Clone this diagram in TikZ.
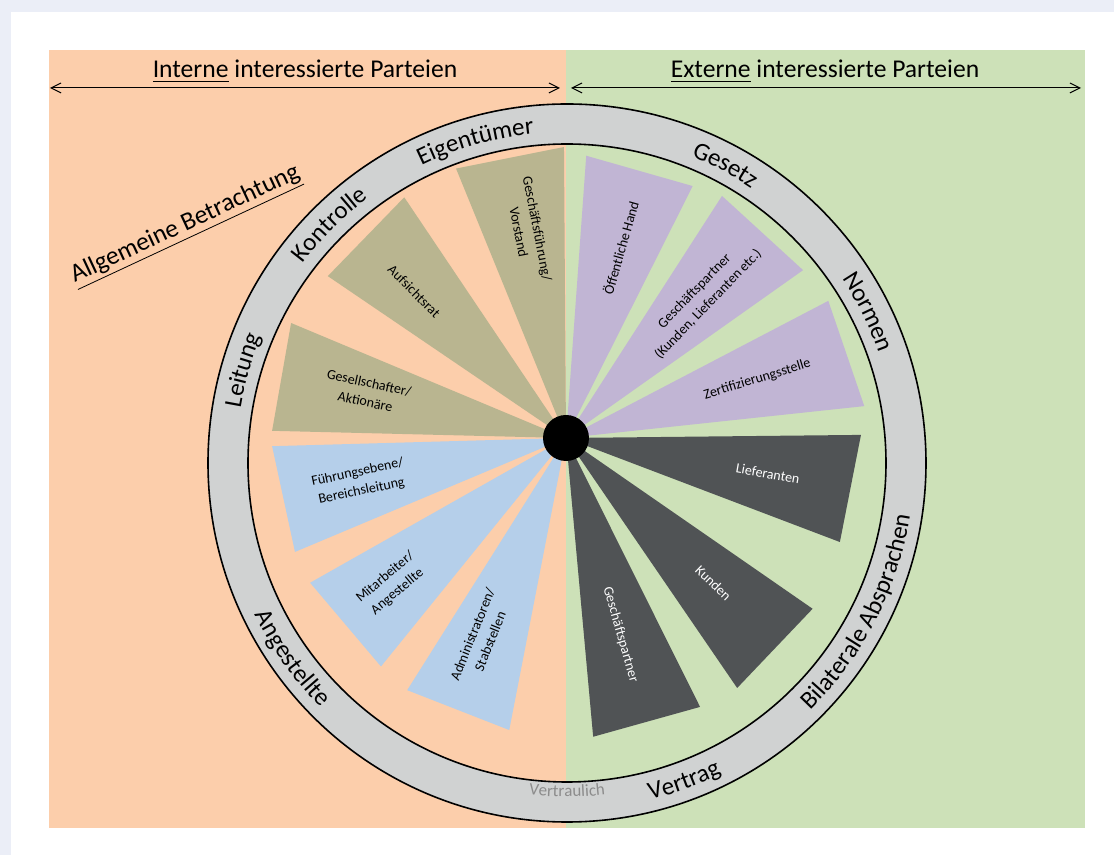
\documentclass[tikz,border=0pt]{standalone}
\usepackage{fontspec}
\setmainfont{Carlito}
\usepackage{tikz}
\usetikzlibrary{arrows.meta}
\usetikzlibrary{decorations.text}

\definecolor{pagebg}{RGB}{235,238,247}
\definecolor{interncol}{RGB}{252,206,171}
\definecolor{externcol}{RGB}{205,225,184}
\definecolor{ringcol}{RGB}{208,210,210}
\definecolor{ownercol}{RGB}{185,181,144}
\definecolor{staffcol}{RGB}{181,207,234}
\definecolor{publiccol}{RGB}{193,181,212}
\definecolor{partnercol}{RGB}{80,83,85}
\definecolor{softgray}{RGB}{140,140,140}

\newcommand\titlefont{\fontsize{12.8}{15}\selectfont}
\newcommand\ringfont{\fontsize{12.5}{15}\selectfont}
\newcommand\smallringfont{\fontsize{8.5}{10}\selectfont}

\begin{document}
\begin{tikzpicture}[x=0.5pt, y=0.5pt,
    wedgetext/.style={font=\fontsize{7}{9.5}\selectfont, align=center, inner sep=0pt},
    darktext/.style={wedgetext, text=white},
    arrowline/.style={line width=0.5pt, {Straight Barb[length=5pt,width=5pt]}-{Straight Barb[length=5pt,width=5pt]}},
    ringline/.style={line width=0.8pt}]
    % background and panels
    \fill[pagebg] (-566,438) rectangle (548,-417);
    \fill[white] (-555,426) rectangle (548,-417);
    \fill[interncol] (-517,388) rectangle (0,-390);
    \fill[externcol] (0,388) rectangle (519,-390);
    \useasboundingbox (-566,438) rectangle (548,-417);

    % headings
    \node[font=\titlefont, anchor=base] (intern) at (-261,360) {\underline{Interne} interessierte Parteien};
    \node[font=\titlefont, anchor=base] (extern) at (259,360) {\underline{Externe} interessierte Parteien};
    \coordinate (il) at (-516,350);
    \coordinate (ir) at (-6,350);
    \coordinate (el) at (5,350);
    \coordinate (er) at (515,350);
    \draw[arrowline] (il) -- (ir);
    \draw[arrowline] (el) -- (er);
    \node[font=\titlefont, rotate=25] (allg) at (-380,212) {\underline{Allgemeine Betrachtung}};

    % ring
    \fill[ringcol, even odd rule] (1,-25) circle[radius=359] (1,-25) circle[radius=319];
    \draw[ringline] (1,-25) circle[radius=359];
    \draw[ringline] (1,-25) circle[radius=319];

    % ring labels
    \path[decorate, decoration={text along path, text align=center, text={|\ringfont|Eigentümer}}]
        (1,-25) ++(145.9:331) arc[start angle=145.9, end angle=65.9, radius=331];
    \path[decorate, decoration={text along path, text align=center, text={|\ringfont|Gesetz}}]
        (1,-25) ++(102:331) arc[start angle=102, end angle=22, radius=331];
    \path[decorate, decoration={text along path, text align=center, text={|\ringfont|Normen}}]
        (1,-25) ++(66.6:331) arc[start angle=66.6, end angle=-13.4, radius=331];
    \path[decorate, decoration={text along path, text align=center, text={|\ringfont|Kontrolle}}]
        (1,-25) ++(174.9:331) arc[start angle=174.9, end angle=94.9, radius=331];
    \path[decorate, decoration={text along path, text align=center, text={|\ringfont|Leitung}}]
        (1,-25) ++(204:331) arc[start angle=204, end angle=124, radius=331];
    \path[decorate, decoration={text along path, text align=center, text={|\ringfont|Bilaterale Absprachen}}]
        (1,-25) ++(-67.1:347) arc[start angle=-67.1, end angle=12.9, radius=347];
    \path[decorate, decoration={text along path, text align=center, text={|\ringfont|Vertrag}}]
        (1,-25) ++(-109.8:347) arc[start angle=-109.8, end angle=-29.8, radius=347];
    \path[decorate, decoration={text along path, text align=center, text color=softgray, text={|\smallringfont|Vertraulich}}]
        (1,-25) ++(-130:334) arc[start angle=-130, end angle=-50, radius=334];
    \path[decorate, decoration={text along path, text align=center, text={|\ringfont|Angestellte}}]
        (1,-25) ++(175.4:347) arc[start angle=175.4, end angle=255.4, radius=347];

    % internal wedges
    \fill[ownercol] (0,0) -- (112.2:291) -- (90.4:291) -- cycle;
    \fill[ownercol] (0,0) -- (145.8:288) -- (123.9:290) -- cycle;
    \fill[ownercol] (0,0) -- (157.3:298) -- (178.6:294) -- cycle;
    \fill[staffcol] (0,0) -- (181.6:294) -- (202.8:294) -- cycle;
    \fill[staffcol] (0,0) -- (209.5:294) -- (231:294) -- cycle;
    \fill[staffcol] (0,0) -- (237.8:298) -- (259:297.5) -- cycle;
    % external wedges
    \fill[publiccol] (0,0) -- (85.9:283) -- (63.3:282) -- cycle;
    \fill[publiccol] (0,0) -- (57.2:288) -- (35.3:290.5) -- cycle;
    \fill[publiccol] (0,0) -- (27.6:296) -- (6.1:300) -- cycle;
    \fill[partnercol] (0,0) -- (0.6:295) -- (-20.8:293) -- cycle;
    \fill[partnercol] (0,0) -- (-34.7:300) -- (-55.6:303) -- cycle;
    \fill[partnercol] (0,0) -- (-63.5:300.5) -- (-84.8:300) -- cycle;

    \node[fill=black, circle, minimum size=23pt, inner sep=0pt] (hub) at (0,0) {};

    % wedge labels
    \node[wedgetext, rotate=-79] (gf) at (100.3:211) {Geschäftsführung/\\Vorstand};
    \node[wedgetext, rotate=-45] (ar) at (136:211) {Aufsichtsrat};
    \node[wedgetext, rotate=-12] (ga) at (167:204) {Gesellschafter/\\Aktionäre};
    \node[wedgetext, rotate=12] (fb) at (192:211) {Führungsebene/\\Bereichsleitung};
    \node[wedgetext, rotate=40] (ma) at (220:228) {Mitarbeiter/\\Angestellte};
    \node[wedgetext, rotate=68] (ad) at (247:217) {Administratoren/\\Stabstellen};
    \node[wedgetext, rotate=74] (oh) at (74:198) {Öffentliche Hand};
    \node[wedgetext, rotate=46] (gp) at (46:195) {Geschäftspartner\\(Kunden, Lieferanten etc.)};
    \node[wedgetext, rotate=17] (zs) at (17:200) {Zertifizierungsstelle};
    \node[darktext, rotate=-10] (lf) at (-10:205) {Lieferanten};
    \node[darktext, rotate=-44] (kd) at (-44.6:207) {Kunden};
    \node[darktext, rotate=-74] (gpd) at (-74.5:204) {Geschäftspartner};
\end{tikzpicture}
\end{document}
